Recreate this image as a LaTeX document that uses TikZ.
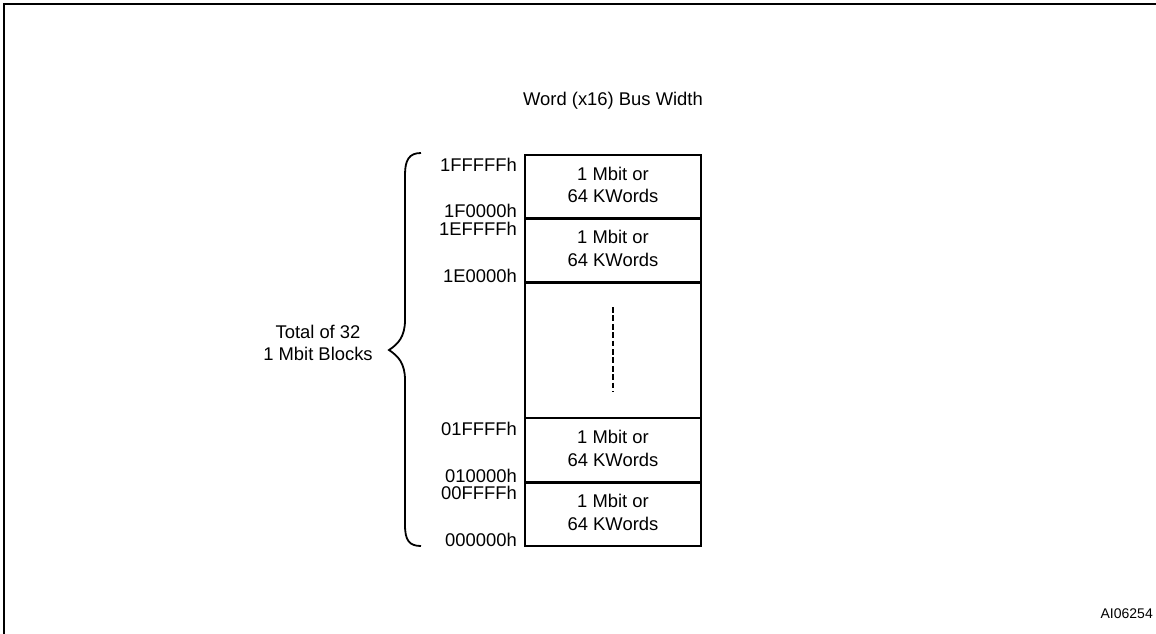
\documentclass[tikz,border=0pt]{standalone}
\usepackage{fontspec}
\setmainfont{Liberation Sans}
\usetikzlibrary{positioning}
\begin{document}
\begin{tikzpicture}[x=1pt,y=-1pt,
  blk/.style={draw,line width=2.6pt,minimum width=176pt,inner sep=0pt,outer sep=0pt,
    align=center,text depth=4pt,font=\fontsize{18.4}{22.4}\selectfont},
  addr/.style={anchor=base east,inner sep=0pt,font=\fontsize{18.4}{22.4}\selectfont},
  txt/.style={inner sep=0pt,align=center,font=\fontsize{18.4}{22.7}\selectfont}]
\useasboundingbox (0,0) rectangle (1156,633);
\clip (0,0) rectangle (1156,633);
\draw[line width=2pt] (4,700) |- (1200,4);
\node[anchor=base,inner sep=0pt,font=\fontsize{18.4}{22.4}\selectfont] (title) at (613,105) {Word (x16) Bus Width};
\node[blk,minimum height=63.5pt] (b1) at (613,186.75) {1 Mbit or\\64 KWords};
\node[blk,minimum height=64pt,below=0pt of b1] (b2) {1 Mbit or\\64 KWords};
\node[blk,minimum height=135.5pt,below=0pt of b2] (gap) {};
\node[blk,minimum height=64.5pt,below=0pt of gap] (b3) {1 Mbit or\\64 KWords};
\node[blk,minimum height=63.5pt,below=0pt of b3] (b4) {1 Mbit or\\64 KWords};
\draw[line width=2.4pt,dash pattern=on 5.7pt off 2.7pt] ([yshift=-24.5pt]gap.north) -- ([yshift=26pt]gap.south);
\node[addr] (a1) at (517,171) {1FFFFFh};
\node[addr] (a2) at (517,217.3) {1F0000h};
\node[addr] (a3) at (517,235) {1EFFFFh};
\node[addr] (a4) at (517,282.7) {1E0000h};
\node[addr] (a5) at (517,435) {01FFFFh};
\node[addr] (a6) at (517,482.7) {010000h};
\node[addr] (a7) at (517,499.3) {00FFFFh};
\node[addr] (a8) at (517,546.7) {000000h};
\coordinate (tip) at (389,350);
\draw[line width=1.8pt] (421,153) .. controls (409,153) and (405,160) .. (405,175) -- (405,320)
  .. controls (405,337) and (398,344) .. (tip) .. controls (398,356) and (405,363) .. (405,380)
  -- (405,525) .. controls (405,540) and (409,546) .. (421,546);
\node[txt] (total) at (318,343) {Total of 32\\1 Mbit Blocks};
\node[anchor=base east,inner sep=0pt,font=\fontsize{14}{16}\selectfont] (fig) at (1153,618.3) {AI06254};
\end{tikzpicture}
\end{document}
